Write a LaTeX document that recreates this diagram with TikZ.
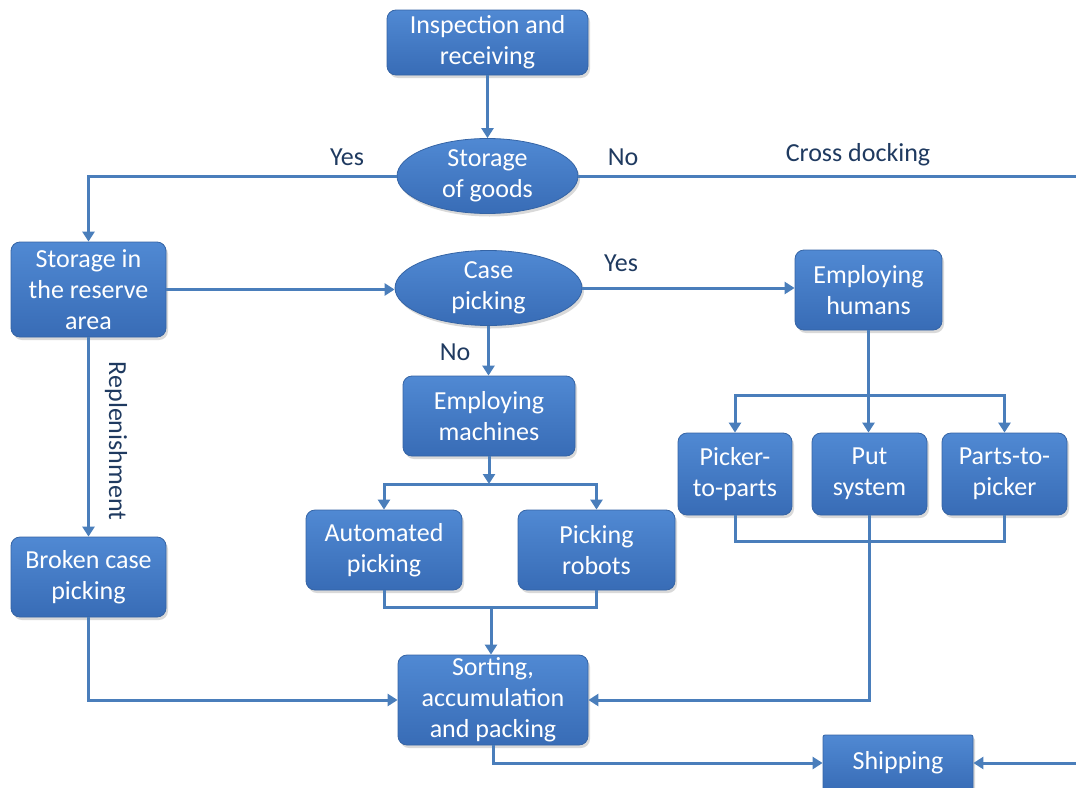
\documentclass[tikz,border=0pt]{standalone}
\usepackage{fontspec}
\setmainfont{Carlito}
\usetikzlibrary{shapes.geometric,arrows.meta,shadows}
\definecolor{boxtop}{HTML}{5089D3}
\definecolor{boxbot}{HTML}{386CB6}
\definecolor{boxedge}{HTML}{3564A5}
\definecolor{linkc}{HTML}{4A7EBB}
\definecolor{labc}{HTML}{1F3A60}
\begin{document}
\begin{tikzpicture}[x=1pt,y=-1pt,
  box/.style={rectangle, rounded corners=9pt, top color=boxtop, bottom color=boxbot,
    draw=boxedge, line width=0.8pt, text=white, font=\fontsize{26}{31}\selectfont,
    align=center, inner sep=0pt,
    drop shadow={shadow xshift=2pt,shadow yshift=-3pt,opacity=0.3}},
  ell/.style={ellipse, top color=boxtop, bottom color=boxbot,
    draw=boxedge, line width=0.8pt, text=white, font=\fontsize{26}{31}\selectfont,
    align=center, inner sep=0pt,
    drop shadow={shadow xshift=2pt,shadow yshift=-3pt,opacity=0.3}},
  link/.style={draw=linkc, line width=3pt},
  arr/.style={link, -{Triangle[width=12pt,length=10pt]}},
  lbl/.style={text=labc, font=\fontsize{26}{30}\selectfont}
]
\useasboundingbox (0,0) rectangle (1076,787);
\clip (0,0) rectangle (1076,787);

% nodes
\node[box, minimum width=201pt, minimum height=65pt] (insp) at (487.5,42.5) {Inspection and\\receiving};
\node[ell, minimum width=181pt, minimum height=75pt] (sog) at (487.5,176) {Storage\\of goods};
\node[box, minimum width=155pt, minimum height=95pt] (res) at (88.5,289.5) {Storage in\\the reserve\\area};
\node[ell, minimum width=187pt, minimum height=75pt] (cp) at (488.5,288) {Case\\picking};
\node[box, minimum width=147pt, minimum height=80pt] (hum) at (868.5,290) {Employing\\humans};
\node[box, minimum width=172pt, minimum height=80pt] (mach) at (489,416) {Employing\\machines};
\node[box, minimum width=114pt, minimum height=82pt] (ptp) at (735,474) {Picker-\\to-parts};
\node[box, minimum width=115pt, minimum height=82pt] (put) at (869.5,474) {Put\\system};
\node[box, minimum width=125pt, minimum height=82pt] (pick) at (1004.5,474) {Parts-to-\\picker};
\node[box, minimum width=156pt, minimum height=80pt] (auto) at (384,550) {Automated\\picking};
\node[box, minimum width=157pt, minimum height=80pt] (rob) at (596.5,550) {Picking\\robots};
\node[box, minimum width=155pt, minimum height=80pt] (brk) at (88.5,577) {Broken case\\picking};
\node[box, minimum width=190pt, minimum height=90pt] (sort) at (493,700) {Sorting,\\accumulation\\and packing};
\node[box, rounded corners=2pt, minimum width=150pt, minimum height=56pt] (ship) at (898,763) {Shipping};

% helper coordinates
\coordinate (cdR) at (1095,400);
\coordinate (hj) at (868.5,395);
\coordinate (mj) at (489,484);
\coordinate (aj) at (491,607);
\coordinate (hj2) at (869.5,541);

% connectors
\draw[arr] (insp) -- (sog);
\draw[arr] (sog.west) -| (res.north);
\draw[arr] (sog.east) -| (cdR) |- (ship.east);
\draw[arr] (res.east) -- (res.east -| cp.west);
\draw[arr] (cp.east) -- (cp.east -| hum.west);
\draw[arr] (cp.south) -- (cp.south |- mach.north);
\draw[link] (hum.south) -- (hj);
\draw[arr] (hj) -- (hj |- put.north);
\draw[arr] (hj) -| (ptp.north);
\draw[arr] (hj) -| (pick.north);
\draw[arr] (mach.south) -- (mj);
\draw[arr] (mj) -| (auto.north);
\draw[arr] (mj) -| (rob.north);
\draw[link] (auto.south) |- (aj);
\draw[link] (rob.south) |- (aj);
\draw[arr] (aj) -- (aj |- sort.north);
\draw[link] (ptp.south) |- (hj2);
\draw[link] (pick.south) |- (hj2);
\draw[arr] (put.south) |- (sort.east);
\draw[arr] (brk.south) |- (sort.west);
\draw[arr] (res.south) -- (brk.north);
\draw[arr] (sort.south) |- (ship.west);

% labels
\node[lbl] (lyes1) at (347,157) {Yes};
\node[lbl] (lno1) at (623,157) {No};
\node[lbl] (lcd) at (858,155) {Cross docking};
\node[lbl] (lyes2) at (621,263) {Yes};
\node[lbl] (lno2) at (455,352) {No};
\node[lbl, rotate=-90] (lrep) at (116,441) {Replenishment};
\end{tikzpicture}
\end{document}
